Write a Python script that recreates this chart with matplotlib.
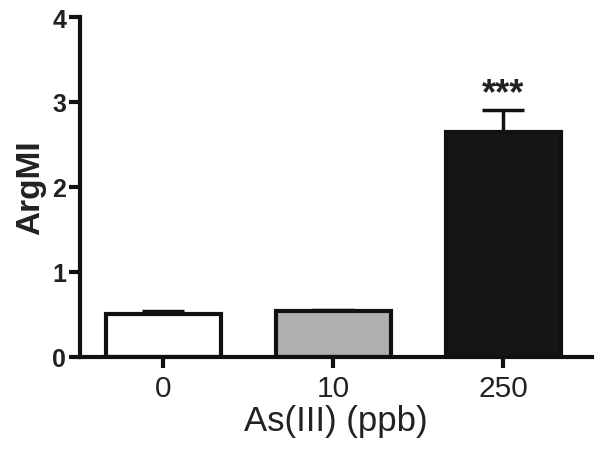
import matplotlib
matplotlib.use('Agg')
import matplotlib.pyplot as plt

plt.rcParams['font.family'] = ['Liberation Sans', 'DejaVu Sans']

groups = ['0', '10', '250']
means = [0.51, 0.54, 2.65]
errors = [0.03, 0.01, 0.26]
colors = ['white', '#b0b0b0', '#161616']
signif = ['', '', '***']

fig = plt.figure(figsize=(6.02, 4.56), dpi=100)
ax = fig.add_axes([0.133, 0.215, 0.85, 0.7455])

x = range(len(groups))
ax.bar(x, means, width=0.68, color=colors, edgecolor='#111111', linewidth=3, zorder=2)
ax.errorbar(x, means, yerr=[[0] * len(errors), errors], fmt='none', ecolor='#111111',
            elinewidth=2.5, capsize=15, capthick=2.5, zorder=1)
for xi, m, e, s in zip(x, means, errors, signif):
    if s:
        ax.text(xi, m + e - 0.02, s, ha='center', va='bottom', fontsize=26,
                fontweight='bold', color='#222222')

ax.set_xlim(-0.49, 2.52)
ax.set_ylim(0, 4)
ax.set_yticks([0, 1, 2, 3, 4])
ax.set_xticks(list(x))
ax.set_xticklabels(groups, fontsize=21.5, color='#222222')
for lab in ax.get_yticklabels():
    lab.set_fontsize(18)
    lab.set_fontweight('bold')
    lab.set_color('#222222')

ax.spines['top'].set_visible(False)
ax.spines['right'].set_visible(False)
ax.spines['left'].set_linewidth(3)
ax.spines['bottom'].set_linewidth(3)
ax.spines['left'].set_color('#111111')
ax.spines['bottom'].set_color('#111111')
ax.tick_params(axis='both', width=3, length=8, direction='out', pad=2, color='#111111')
ax.tick_params(axis='x', pad=4)

ax.set_ylabel('ArgMI', fontsize=24, fontweight='bold', labelpad=4, color='#222222')
ax.set_xlabel('As(III) (ppb)', fontsize=25, labelpad=2, color='#222222')

fig.savefig('out.png', dpi=100)
